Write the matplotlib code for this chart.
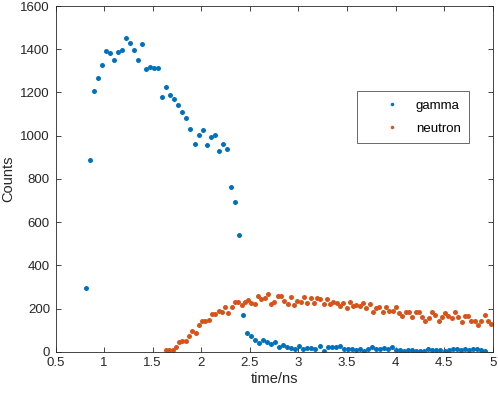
import matplotlib
matplotlib.use("Agg")
import matplotlib.pyplot as plt
import numpy as np
from matplotlib.ticker import FormatStrFormatter

plt.rcParams['font.family'] = ['Liberation Sans', 'DejaVu Sans']

# gamma counts, 100 time bins
gamma_t0 = 0.81
gamma_dt = 0.0415
gamma_counts = [294, 888, 1207, 1267, 1325, 1393, 1384, 1349, 1388, 1396,
                1452, 1429, 1396, 1349, 1425, 1307, 1319, 1313, 1312, 1177,
                1224, 1190, 1170, 1141, 1108, 1082, 1030, 962, 1005, 1028,
                956, 993, 1005, 929, 962, 939, 761, 692, 542, 172,
                85, 75, 54, 39, 54, 43, 36, 46, 23, 30,
                22, 17, 12, 26, 14, 17, 17, 11, 26, 3,
                20, 20, 23, 26, 14, 11, 11, 8, 12, 5,
                11, 23, 12, 11, 17, 11, 22, 8, 6, 2,
                6, 8, 3, 5, 5, 12, 8, 8, 8, 5,
                9, 11, 12, 8, 11, 8, 12, 11, 9, 5]

# neutron counts, 100 time bins
neutron_t0 = 1.637
neutron_dt = 0.0338
neutron_counts = [6, 6, 9, 20, 46, 48, 50, 73, 97, 85,
                  124, 142, 142, 147, 173, 173, 190, 182, 205, 178,
                  208, 230, 230, 218, 230, 241, 227, 222, 259, 244,
                  248, 265, 223, 229, 258, 258, 236, 221, 255, 214,
                  235, 229, 255, 227, 250, 224, 250, 244, 221, 242,
                  221, 231, 224, 211, 227, 202, 229, 211, 216, 211,
                  224, 202, 222, 182, 201, 208, 185, 205, 187, 187,
                  205, 178, 167, 182, 185, 161, 182, 185, 162, 141,
                  157, 182, 171, 141, 162, 178, 165, 157, 182, 161,
                  137, 165, 165, 141, 143, 124, 143, 171, 143, 127]

gamma_t = gamma_t0 + gamma_dt * np.arange(len(gamma_counts))
neutron_t = neutron_t0 + neutron_dt * np.arange(len(neutron_counts))

blue = '#0072BD'
orange = '#D95319'
axis_col = '#262626'

fig = plt.figure(figsize=(4.98, 3.93), dpi=100)
ax = fig.add_axes([0.1115, 0.105, 0.878, 0.8797])

ax.plot(gamma_t, gamma_counts, 'o', color=blue, ms=3.6, mew=0, label='gamma')
ax.plot(neutron_t, neutron_counts, 'o', color=orange, ms=3.6, mew=0, label='neutron')

ax.set_xlim(0.5, 5)
ax.set_ylim(0, 1600)
ax.set_xticks(np.arange(0.5, 5.01, 0.5))
ax.set_yticks(np.arange(0, 1601, 200))
ax.xaxis.set_major_formatter(FormatStrFormatter('%g'))

ax.tick_params(direction='in', top=True, right=True, length=3.5, width=0.6,
               labelsize=9.5, colors=axis_col, pad=4)
for sp in ax.spines.values():
    sp.set_color(axis_col)
    sp.set_linewidth(0.6)

ax.set_xlabel('time/ns', fontsize=10.5, color=axis_col, labelpad=2)
ax.set_ylabel('Counts', fontsize=10.5, color=axis_col, labelpad=4)

leg = ax.legend(loc='upper left', bbox_to_anchor=(0.6896, 0.754),
                fancybox=False, edgecolor=axis_col, fontsize=9.5,
                markerscale=0.7, handlelength=4.0, handletextpad=-0.2,
                borderpad=0.65, labelspacing=0.8, borderaxespad=0)
leg.get_frame().set_linewidth(0.6)

fig.savefig('out.png', dpi=100)
